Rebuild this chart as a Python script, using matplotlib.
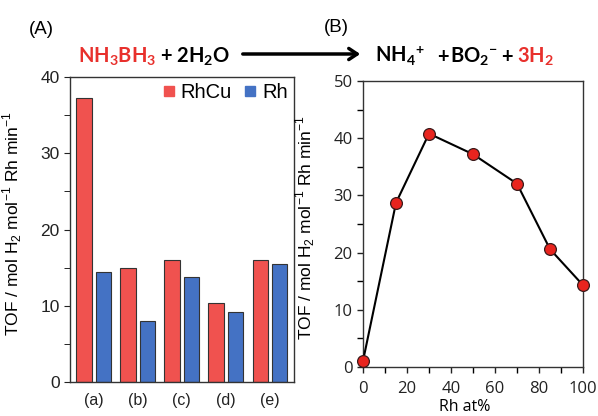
import matplotlib
matplotlib.use('Agg')
import matplotlib.pyplot as plt
import numpy as np
from matplotlib.lines import Line2D
from matplotlib.patches import FancyArrowPatch
from matplotlib.ticker import MultipleLocator

plt.rcParams['font.family'] = ['Liberation Sans', 'DejaVu Sans']
plt.rcParams['mathtext.fontset'] = 'custom'
plt.rcParams['mathtext.rm'] = 'Liberation Sans'
plt.rcParams['mathtext.bf'] = 'Lato:bold'

# panel A data
samples = ['(a)', '(b)', '(c)', '(d)', '(e)']
tof_rhcu = [37.3, 14.95, 16.05, 10.35, 16.05]
tof_rh = [14.4, 8.05, 13.8, 9.2, 15.5]

# panel B data
rh_at = [0, 15, 30, 50, 70, 85, 100]
tof_b = [1.05, 28.7, 40.8, 37.2, 32.05, 20.6, 14.3]

red = '#F0524F'
blue = '#4472C4'
ylab = r'TOF / mol H$_2$ mol$^{-1}$ Rh min$^{-1}$'

W, H = 598, 416
fig = plt.figure(figsize=(W / 100, H / 100), dpi=100)


def box(x0, y0, x1, y1):
    return [x0 / W, 1 - y1 / H, (x1 - x0) / W, (y1 - y0) / H]


# ---- (A) bars
ax1 = fig.add_axes(box(70, 77, 294, 382))
x = np.arange(len(samples))
ax1.bar(x - 0.218, tof_rhcu, 0.35, color=red, edgecolor='#333333', linewidth=0.8)
ax1.bar(x + 0.218, tof_rh, 0.35, color=blue, edgecolor='#333333', linewidth=0.8)
ax1.set_xlim(-0.54, 4.55)
ax1.set_ylim(0, 40)
ax1.set_xticks(x)
ax1.set_xticklabels(samples)
ax1.yaxis.set_major_locator(MultipleLocator(10))
ax1.yaxis.set_minor_locator(MultipleLocator(5))
ax1.tick_params(axis='x', length=0, labelsize=11.5, pad=8, colors='#222222')
ax1.tick_params(axis='y', which='major', length=4, labelsize=12.5, colors='#222222')
ax1.tick_params(axis='y', which='minor', length=4)
ax1.set_ylabel(ylab, fontsize=12.5)
ax1.yaxis.set_label_coords(-0.205, 0.52)
for s in ax1.spines.values():
    s.set_linewidth(1.0)
    s.set_color('#333333')

handles = [Line2D([], [], marker='s', ls='', color=red, markersize=7.5),
           Line2D([], [], marker='s', ls='', color=blue, markersize=7.5)]
ax1.legend(handles, ['RhCu', 'Rh'], ncol=2, loc='upper right', frameon=False,
           fontsize=14.5, handlelength=0.6, handletextpad=0.3, columnspacing=0.6,
           borderaxespad=0.1, borderpad=0.2)

# ---- (B) line
ax2 = fig.add_axes(box(363, 81, 583, 367))
ax2.plot(rh_at, tof_b, color='black', lw=1.5, marker='o', ms=8.5,
         mfc='#E8241E', mec='#3A1A1A', mew=0.9, clip_on=False, zorder=3)
ax2.set_xlim(0, 100)
ax2.set_ylim(0, 50)
ax2.xaxis.set_major_locator(MultipleLocator(20))
ax2.xaxis.set_minor_locator(MultipleLocator(10))
ax2.yaxis.set_major_locator(MultipleLocator(10))
ax2.yaxis.set_minor_locator(MultipleLocator(5))
ax2.tick_params(which='both', length=4, width=1.0)
ax2.tick_params(axis='both', labelsize=12, colors='#222222')
for lab in ax2.get_xticklabels() + ax2.get_yticklabels():
    lab.set_family('Open Sans')
ax2.tick_params(axis='x', pad=6)
ax2.set_ylabel(ylab, fontsize=12.5)
ax2.yaxis.set_label_coords(-0.21, 0.486)
ax2.set_xlabel('Rh at%', fontsize=11.5, family='Open Sans', va='top')
ax2.xaxis.set_label_coords(0.46, -0.112)
for s in ax2.spines.values():
    s.set_linewidth(1.0)
    s.set_color('#333333')

# ---- titles and equation
fig.text(29 / W, 1 - 29 / H, '(A)', fontsize=13.5, va='center', ha='left')
fig.text(324 / W, 1 - 28 / H, '(B)', fontsize=13.5, va='center', ha='left')

eq = dict(fontsize=14.5, fontweight='bold', family='Lato', va='baseline', ha='left')
yb = 1 - 63 / H
fig.text(78 / W, yb, r'NH$_\mathbf{3}$BH$_\mathbf{3}$', color='#E8302C', **eq)
fig.text(160 / W, yb, r'+ 2H$_\mathbf{2}$O', color='black', **eq)
fig.text(375 / W, yb, r'NH$_\mathbf{4}$$^\mathbf{+}$', color='black', **eq)
fig.text(437 / W, yb, '+', color='black', **eq)
fig.text(450 / W, yb, r'BO$_\mathbf{2}$$^\mathbf{-}$', color='black', **eq)
fig.text(501 / W, yb, '+', color='black', **eq)
fig.text(517 / W, yb, r'3H$_\mathbf{2}$', color='#E8302C', **eq)

arrow = FancyArrowPatch((240 / W, 1 - 54 / H), (363 / W, 1 - 54 / H),
                        transform=fig.transFigure, arrowstyle='->,head_length=6,head_width=4',
                        lw=2.5, color='black', mutation_scale=1)
fig.patches.append(arrow)

fig.savefig('out.png', dpi=100)
